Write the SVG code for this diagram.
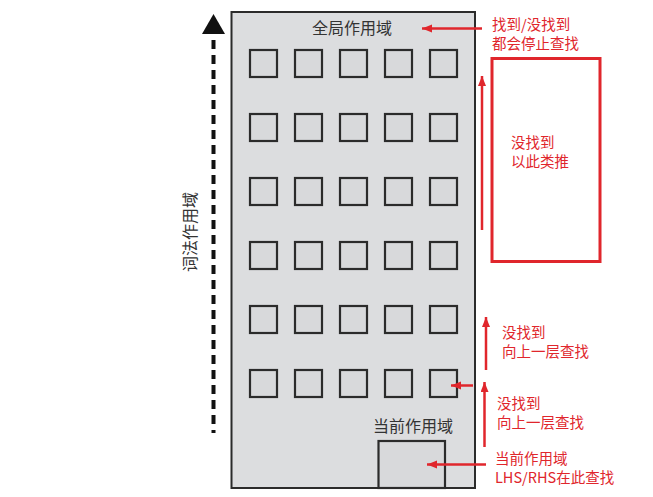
<svg xmlns="http://www.w3.org/2000/svg" width="653" height="497" viewBox="0 0 653 497">
<style>
.bg{fill:#ffffff}
.bldg{fill:#dcdddf;stroke:#2b2b2b;stroke-width:2}
.win{fill:#d8d9db;stroke:#2b2b2b;stroke-width:2.2}
.gt{font-family:"Noto Sans CJK SC","Liberation Sans",sans-serif;font-size:16px;fill:#333333}
.rt{font-family:"Noto Sans CJK SC","Liberation Sans",sans-serif;font-size:14.5px;fill:#e0262c}
.ra{stroke:#e0262c;stroke-width:2.5;fill:none;marker-end:url(#ah)}
.rbox{fill:#ffffff;stroke:#e0262c;stroke-width:3}
</style>
<defs>
<marker id="ah" markerUnits="userSpaceOnUse" markerWidth="11" markerHeight="9" refX="10" refY="4" orient="auto">
<path d="M0,0 L10,4 L0,8 z" fill="#e0262c"/>
</marker>
</defs>
<rect class="bg" x="0" y="0" width="653" height="497"/>
<g id="building">
<rect class="bldg" x="231.5" y="12" width="243.5" height="476"/>
<text class="gt" x="352" y="34" text-anchor="middle">全局作用域</text>
</g>
<g id="scopes">
<g id="row1"><rect class="win" x="250" y="50" width="27" height="27"/><rect class="win" x="295" y="50" width="27" height="27"/><rect class="win" x="340" y="50" width="27" height="27"/><rect class="win" x="385" y="50" width="27" height="27"/><rect class="win" x="430" y="50" width="27" height="27"/></g>
<g id="row2"><rect class="win" x="250" y="114" width="27" height="27"/><rect class="win" x="295" y="114" width="27" height="27"/><rect class="win" x="340" y="114" width="27" height="27"/><rect class="win" x="385" y="114" width="27" height="27"/><rect class="win" x="430" y="114" width="27" height="27"/></g>
<g id="row3"><rect class="win" x="250" y="178" width="27" height="27"/><rect class="win" x="295" y="178" width="27" height="27"/><rect class="win" x="340" y="178" width="27" height="27"/><rect class="win" x="385" y="178" width="27" height="27"/><rect class="win" x="430" y="178" width="27" height="27"/></g>
<g id="row4"><rect class="win" x="250" y="242" width="27" height="27"/><rect class="win" x="295" y="242" width="27" height="27"/><rect class="win" x="340" y="242" width="27" height="27"/><rect class="win" x="385" y="242" width="27" height="27"/><rect class="win" x="430" y="242" width="27" height="27"/></g>
<g id="row5"><rect class="win" x="250" y="306" width="27" height="27"/><rect class="win" x="295" y="306" width="27" height="27"/><rect class="win" x="340" y="306" width="27" height="27"/><rect class="win" x="385" y="306" width="27" height="27"/><rect class="win" x="430" y="306" width="27" height="27"/></g>
<g id="row6"><rect class="win" x="250" y="370" width="27" height="27"/><rect class="win" x="295" y="370" width="27" height="27"/><rect class="win" x="340" y="370" width="27" height="27"/><rect class="win" x="385" y="370" width="27" height="27"/><rect class="win" x="430" y="370" width="27" height="27"/></g>
</g>
<g id="current-scope">
<rect class="win" x="378.5" y="441" width="66.5" height="47"/>
<text class="gt" x="413" y="432" text-anchor="middle">当前作用域</text>
</g>
<g id="lexical-label">
<text class="gt" transform="translate(196,232) rotate(-90)" text-anchor="middle">词法作用域</text>
</g>
<g id="etc-box">
<rect class="rbox" x="492" y="58.5" width="108" height="203"/>
<text class="rt" x="511" y="148">没找到</text>
<text class="rt" x="511" y="167">以此类推</text>
</g>
<g id="labels">
<text class="rt" x="492" y="30">找到/没找到</text>
<text class="rt" x="492" y="49">都会停止查找</text>
<text class="rt" x="502" y="338">没找到</text>
<text class="rt" x="502" y="357">向上一层查找</text>
<text class="rt" x="497" y="409">没找到</text>
<text class="rt" x="497" y="428">向上一层查找</text>
<text class="rt" x="495" y="464">当前作用域</text>
<text class="rt" x="495" y="483">LHS/RHS在此查找</text>
</g>
<g id="connectors">
<line x1="213.5" y1="40" x2="213.5" y2="433" stroke="#111111" stroke-width="4" stroke-dasharray="9 6"/>
<polygon points="213.5,14 202,34 225,34" fill="#111111"/>
<line class="ra" x1="482" y1="28.5" x2="422" y2="28.5"/>
<line class="ra" x1="482" y1="230" x2="482" y2="76"/>
<line class="ra" x1="486" y1="370" x2="486" y2="317"/>
<line class="ra" x1="484.5" y1="447" x2="484.5" y2="382"/>
<line class="ra" x1="473" y1="385.5" x2="451" y2="385.5"/>
<line class="ra" x1="486" y1="464.5" x2="427" y2="464.5"/>
</g>
</svg>
